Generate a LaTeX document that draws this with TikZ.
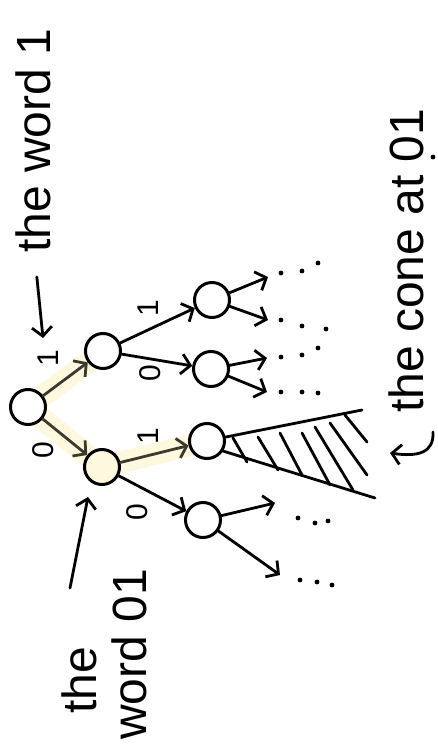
\documentclass[tikz,border=0pt]{standalone}
\usepackage{fontspec}
\setmainfont{Liberation Sans}
\usetikzlibrary{arrows.meta,backgrounds}
\definecolor{hilite}{RGB}{254,248,222}
\definecolor{pathink}{RGB}{60,58,42}

\begin{document}
\begin{tikzpicture}[x=1pt,y=-1pt,
  bit/.style={circle, draw, line width=3pt, minimum size=35pt, inner sep=0pt, fill=white},
  edge/.style={line width=2.8pt, line cap=round, -{Straight Barb[length=9pt,width=20pt]}},
  walk/.style={edge, draw=pathink},
  band/.style={hilite, line width=22pt, line cap=round, line join=round},
  hatch/.style={line width=2.8pt, line cap=round},
  lbl/.style={rotate=90, font=\fontsize{30}{30}\selectfont, inner sep=0pt},
  note/.style={rotate=90, font=\fontsize{48}{50}\selectfont, inner sep=0pt}]
\useasboundingbox (0,0) rectangle (437,749);

% the tree
\node[bit] (r) at (28,407) {};
\node[bit] (n1) at (103,351) {};
\node[bit, fill=hilite] (n0) at (102,467) {};
\node[bit] (n11) at (212,300) {};
\node[bit] (n10) at (211,369) {};
\node[bit] (n01) at (207,441) {};
\node[bit] (n00) at (203,520) {};

\begin{scope}[on background layer]
\draw[band] (n1.center) -- (r.center) -- (n0.center) -- (n01.center);
\end{scope}

\draw[walk] (r) -- (n1);
\draw[walk] (r) -- (n0);
\draw[edge] (n1) -- (n11);
\draw[edge] (n1) -- (n10);
\draw[walk] (n0) -- (n01);
\draw[edge] (n0) -- (n00);

\node[lbl] (l-r1) at (48,358) {1};
\node[lbl] (l-r0) at (43,450) {0};
\node[lbl] (l-11) at (148,308) {1};
\node[lbl] (l-10) at (150,373) {0};
\node[lbl] (l-01) at (148,436) {1};
\node[lbl] (l-00) at (137,512) {0};

% where the tree goes on
\coordinate (t11a) at (268,277);
\coordinate (t11b) at (268,320);
\coordinate (t10a) at (267,358);
\coordinate (t10b) at (267,392);
\coordinate (t00a) at (275,503);
\coordinate (t00b) at (280,575);
\draw[edge] (n11) -- (t11a);
\draw[edge] (n11) -- (t11b);
\draw[edge] (n10) -- (t10a);
\draw[edge] (n10) -- (t10b);
\draw[edge] (n00) -- (t00a);
\draw[edge] (n00) -- (t00b);

% ... dots
\foreach \p in {(281,273),(302,271),(318,263), (281,320),(302,326),(326,329),
    (281,357),(302,355),(318,348), (281,392),(302,392),(318,393),
    (298,518),(315,523),(328,521), (300,580),(317,582),(332,585)}
  \fill \p circle (2.4);

% the cone
\coordinate (c-top) at (362,410);
\coordinate (c-bot) at (375,498);
\draw[hatch] (n01.12) -- (c-top);
\draw[hatch] (n01.-32) -- (c-bot);
\foreach \xa/\ya/\xb/\yb in {233/438/247/462, 258/437/278/470, 280/433/302/475,
    302/433/330/485, 315/427/353/490, 330/423/367/475, 345/415/367/442}
  \draw[hatch] (\xa,\ya) -- (\xb,\yb);

% notes
\node[note, anchor=base west] (w1) at (50,253) {the word 1};
\coordinate (p1) at (43,338);
\draw[edge] ([xshift=4pt, yshift=-24pt]w1.west) -- (p1);

\node[note, align=left, anchor=south west] (w01) at (147,740) {\hspace*{26pt}the\\word 01};
\coordinate (q0) at (70,588);
\coordinate (q1) at (88,497);
\draw[edge] (q0) -- (q1);

\node[note, anchor=base west] (wc) at (423,413) {the cone at 01};
\fill (433,157) circle (2.4);
\coordinate (h0) at (433,432);
\coordinate (h1) at (390,453);
\draw[edge] (h0) .. controls (434,453) and (418,457) .. (h1);
\end{tikzpicture}
\end{document}
